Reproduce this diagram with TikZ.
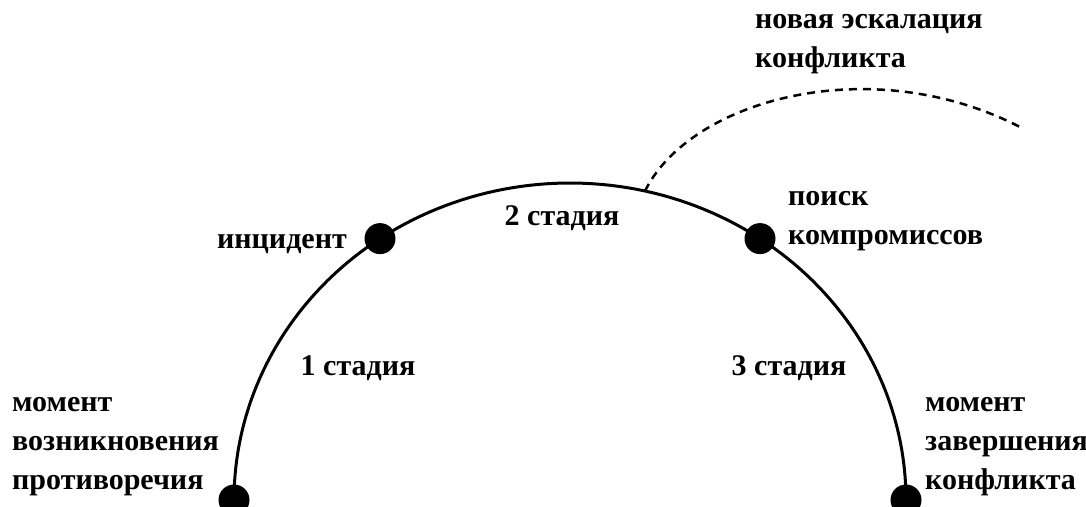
\documentclass[tikz,border=0pt]{standalone}
\usepackage{fontspec}
\setmainfont{Liberation Serif}
\begin{document}
\begin{tikzpicture}[x=1pt,y=-1pt,
  lbl/.style={font=\fontsize{30}{39}\selectfont\bfseries, inner sep=0pt, align=left},
  dotn/.style={circle, fill=black, minimum size=31pt, inner sep=0pt},
  arcline/.style={line width=3pt},
  dashline/.style={line width=2.5pt, dash pattern=on 8pt off 6pt}]
\useasboundingbox (0,0) rectangle (1086,506);
% point centres on the ellipse (centre 570,500; radii 336, 317)
\coordinate (c0) at (234,500);
\coordinate (c1) at (380,238.6);
\coordinate (c2) at (760,238.6);
\coordinate (c3) at (906,500);
\coordinate (e0) at (645,191);
\coordinate (e1) at (1020,127);
% main arc
\draw[arcline] plot[domain=180:0, samples=120] ({570+336*cos(\x)},{500-317*sin(\x)});
% dashed branch
\draw[dashline] (e0) .. controls (690,100) and (870,50) .. (e1);
% dots
\node[dotn] (p0) at (c0) {};
\node[dotn] (p1) at (c1) {};
\node[dotn] (p2) at (c2) {};
\node[dotn] (p3) at (c3) {};
% labels
\node[lbl, anchor=east] (linc) at (347,244) {инцидент};
\node[lbl] (ls2) at (562,218) {2 стадия};
\node[lbl, anchor=west] (lpoisk) at (788,221) {поиск\\компромиссов};
\node[lbl] (ls1) at (358,368) {1 стадия};
\node[lbl] (ls3) at (789,368) {3 стадия};
\node[lbl, anchor=west] (lstart) at (12,447) {момент\\возникновения\\противоречия};
\node[lbl, anchor=west] (lend) at (925,447) {момент\\завершения\\конфликта};
\node[lbl, anchor=west] (lnew) at (755,44) {новая эскалация\\конфликта};
\end{tikzpicture}
\end{document}
